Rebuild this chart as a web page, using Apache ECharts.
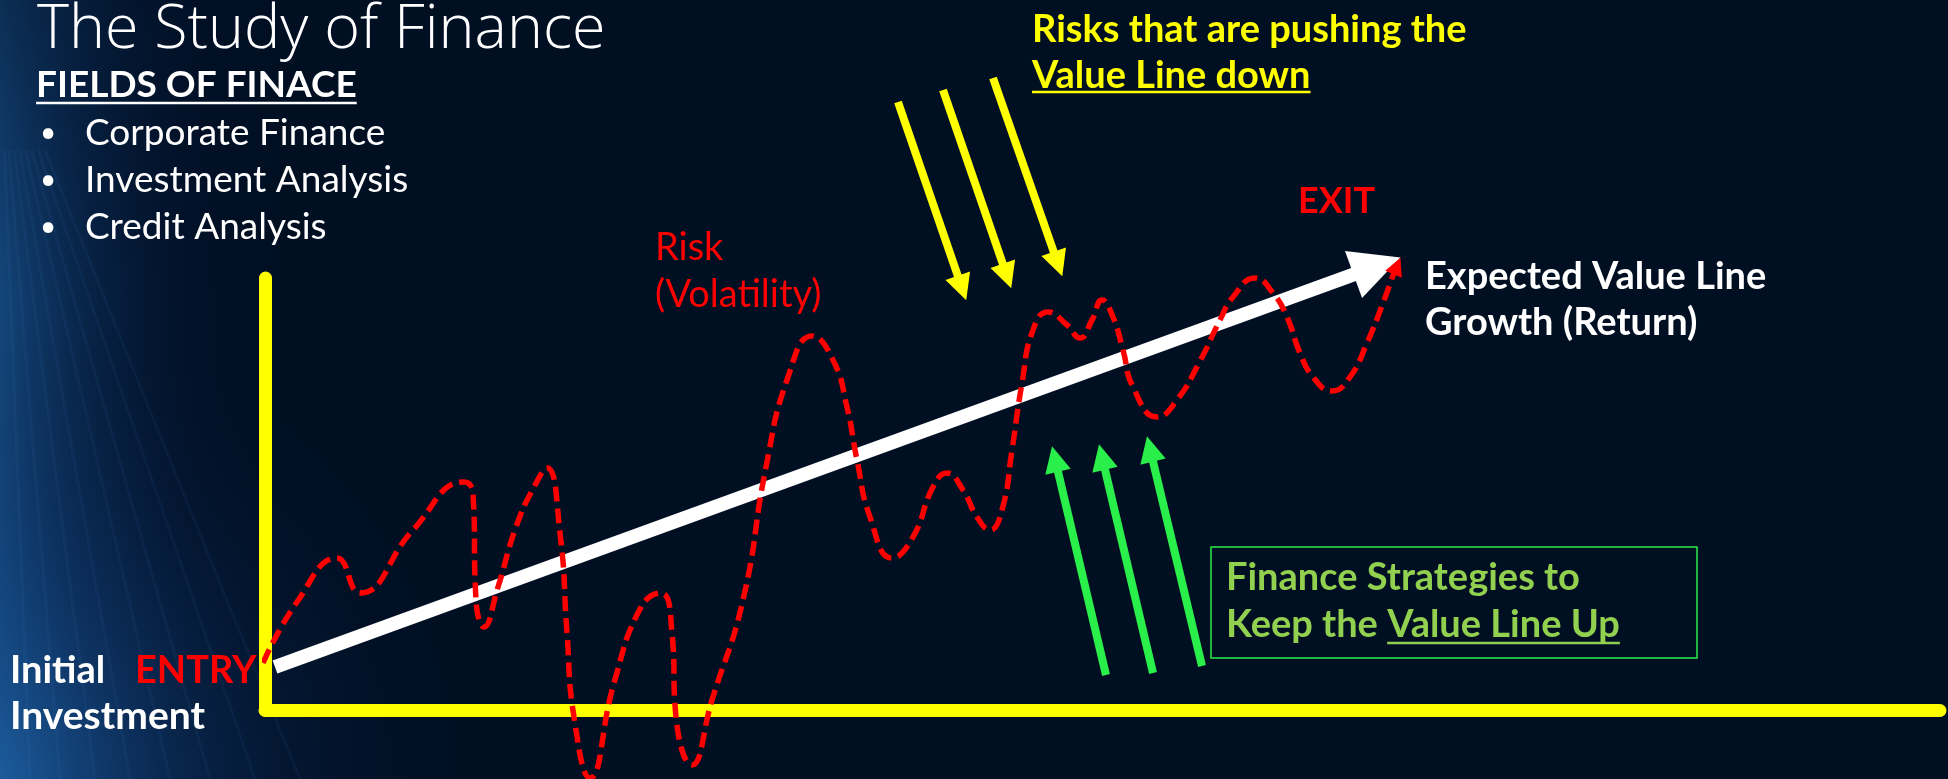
<!DOCTYPE html>
<html><head><meta charset="utf-8">
<script src="https://cdn.jsdelivr.net/npm/echarts@6/dist/echarts.min.js"></script>
<style>html,body{margin:0;padding:0;background:#010f23;overflow:hidden}#c{width:1948px;height:779px}</style>
</head><body><div id="c"></div>
<script>
// ---- data (horizontal: time units, vertical: value units) ----
const xRange = [0, 167.5];
const yRange = [0, 43.2];
const riskCurve = [[-0.2,4.7],[3.2,10.8],[7.2,15.2],[9.5,11.7],[14.8,18.0],[19.9,22.8],[20.8,21.7],[21.1,11.0],[21.9,8.3],[23.3,12.3],[25.1,18.3],[26.9,22.3],[28.2,24.2],[29.5,17.7],[30.2,7.7],[30.9,-0.7],[32.5,-6.8],[34.9,2.7],[37.6,10.3],[39.6,11.7],[40.7,7.7],[41.1,-0.7],[42.7,-5.5],[44.7,1.0],[47.8,11.0],[50.1,24.3],[52.3,33.3],[54.7,37.4],[56.8,35.0],[58.2,30.3],[59.2,25.0],[60.5,19.3],[62.7,15.2],[64.8,17.3],[66.8,22.3],[68.2,23.7],[69.8,22.0],[71.2,19.3],[72.5,18.0],[73.7,20.0],[74.7,26.0],[75.7,32.7],[76.8,38.0],[78.3,39.8],[80.2,38.5],[81.5,37.2],[82.7,39.0],[83.7,41.0],[84.8,39.3],[85.8,36.0],[86.8,32.3],[89.2,29.3],[91.2,31.0],[93.5,34.9],[95.5,39.0],[96.8,41.3],[99.0,43.2],[100.8,41.7],[102.2,39.3],[103.5,35.7],[104.8,33.3],[106.7,31.9],[108.5,33.3],[110.2,36.7],[111.8,40.7],[112.7,43.2]];
const riskArrowHead = [[112.7,43.2],[113.2,44.4]];
const valueLine = [[1.0,4.3],[111.2,44.4]];
const downArrows = [[[63.3,60.8],[69.7,42.2]],[[67.8,62.0],[74.2,43.4]],[[72.8,63.2],[79.3,44.6]]];
const upArrows = [[[84.1,3.5],[79.0,25.1]],[[88.8,3.7],[83.7,25.3]],[[93.7,4.4],[88.5,26.1]]];

// ---- texts ----
const titleText = 'The Study of Finance';
const fieldsHeading = 'FIELDS OF FINACE';
const fieldItems = ['Corporate Finance','Investment Analysis','Credit Analysis'];
const riskLabel = ['Risk','(Volatility)'];
const risksNote = ['Risks that are pushing the','Value Line down'];
const valueNote = ['Expected Value Line','Growth (Return)'];
const strategyNote = ['Finance Strategies to','Keep the ','Value Line Up'];

const chart = echarts.init(document.getElementById('c'), null, {renderer:'canvas'});
const ctx = document.createElement('canvas').getContext('2d');
function tw(t, f){ ctx.font = f; return ctx.measureText(t).width; }

const YEL = '#FFFF00', RED = '#FF0000', GRN = '#2AEE4A', LGRN = '#92D050', WHT = '#FFFFFF';
const FB = 'bold 38px Lato', FR = '37px Lato';
function txt(x, y, t, font, fill){ return {type:'text', x:x, y:y, z:50, silent:true, style:{text:t, font:font, fill:fill, textAlign:'left', verticalAlign:'middle'}}; }
function uline(x, y, w, col, lw){ return {type:'line', z:50, silent:true, shape:{x1:x,y1:y,x2:x+w,y2:y}, style:{stroke:col, lineWidth:lw}}; }

const g = [];
// background glow (decoration)
g.push({type:'rect', z:-10, silent:true, shape:{x:0,y:0,width:300,height:779}, style:{fill:new echarts.graphic.LinearGradient(0,0,1,0,[{offset:0,color:'rgba(30,100,170,0.75)'},{offset:0.3,color:'rgba(18,66,125,0.45)'},{offset:0.65,color:'rgba(6,32,72,0.16)'},{offset:1,color:'rgba(1,15,35,0)'}])}});
g.push({type:'rect', z:-10, silent:true, shape:{x:0,y:300,width:520,height:479}, style:{fill:new echarts.graphic.RadialGradient(0,1,1,[{offset:0,color:'rgba(32,100,170,0.6)'},{offset:0.5,color:'rgba(14,55,110,0.3)'},{offset:1,color:'rgba(1,15,35,0)'}])}});
g.push({type:'rect', z:-9, silent:true, shape:{x:0,y:0,width:300,height:779}, style:{fill:new echarts.graphic.LinearGradient(0,0,0,1,[{offset:0,color:'rgba(1,15,35,0.5)'},{offset:0.4,color:'rgba(1,15,35,0.12)'},{offset:1,color:'rgba(1,15,35,0)'}])}});
[30,60,95,130,170,210,255,300].forEach(function(s){
  g.push({type:'bezierCurve', z:-8, silent:true, shape:{x1:s, y1:779, cpx1:s*0.55, cpy1:450, x2:s*0.15, y2:150}, style:{stroke:'rgba(90,160,230,0.06)', lineWidth:3, fill:'none'}});
});

g.push(txt(37, 31, titleText, '300 61px "Open Sans"', WHT));
g.push(txt(36, 84.8, fieldsHeading, 'bold 37px Lato', WHT));
g.push(uline(36, 103, tw(fieldsHeading,'bold 37px Lato'), WHT, 2.5));
fieldItems.forEach(function(t,i){
  g.push(txt(40, 132.8+47*i, '\u2022', '28px Lato', WHT));
  g.push(txt(85, 132.8+47*i, t, FR, WHT));
});
g.push(txt(655, 247.5, riskLabel[0], '38px Lato', RED));
g.push(txt(655, 294.5, riskLabel[1], '38px Lato', RED));
g.push(txt(1298, 201, 'EXIT', 'bold 36px Lato', RED));
g.push(txt(1032, 29.5, risksNote[0], FB, YEL));
g.push(txt(1032, 75.5, risksNote[1], FB, YEL));
g.push(uline(1032, 92, tw(risksNote[1], FB), YEL, 2.5));
g.push(txt(1425, 276.5, valueNote[0], FB, WHT));
g.push(txt(1425, 322.5, valueNote[1], FB, WHT));
g.push(txt(10, 670.5, 'Initial', FB, WHT));
g.push(txt(135, 670.5, 'ENTRY', FB, RED));
g.push(txt(10, 716.5, 'Investment', 'bold 39px Lato', WHT));
g.push({type:'rect', z:50, silent:true, shape:{x:1211,y:547,width:486,height:111}, style:{fill:'none', stroke:GRN, lineWidth:1.5}});
g.push(txt(1226, 577.5, strategyNote[0], FB, LGRN));
g.push(txt(1226, 624.5, strategyNote[1], FB, LGRN));
const kx = 1226 + tw(strategyNote[1], FB);
g.push(txt(kx, 624.5, strategyNote[2], FB, LGRN));
g.push(uline(kx, 643, tw(strategyNote[2], FB), LGRN, 2.5));

function arrowSeries(list, color, width, head, z){
  return {type:'lines', coordinateSystem:'cartesian2d', z:z, clip:false, silent:true,
    symbol:['none','triangle'], symbolSize:head,
    lineStyle:{color:color, width:width, opacity:1, curveness:0, cap:'butt'},
    data: list.map(function(c){ return {coords:c}; })};
}

chart.setOption({
  backgroundColor:'#010f23',
  animation:false,
  grid:{left:265, right:8, top:278, bottom:69, outerBoundsMode:'none', containLabel:false},
  xAxis:{type:'value', min:xRange[0], max:xRange[1], axisLine:{show:true, onZero:false, lineStyle:{color:YEL, width:13}}, axisTick:{show:false}, axisLabel:{show:false}, splitLine:{show:false}},
  yAxis:{type:'value', min:yRange[0], max:yRange[1], axisLine:{show:true, onZero:false, lineStyle:{color:YEL, width:13}}, axisTick:{show:false}, axisLabel:{show:false}, splitLine:{show:false}},
  graphic:g,
  series:[
    arrowSeries([valueLine], WHT, 14, 50, 3),
    arrowSeries(downArrows, YEL, 8, 26, 4),
    arrowSeries(upArrows, GRN, 8, 26, 4),
    {type:'line', z:6, data:riskCurve, smooth:0.5, symbol:'none', clip:false, silent:true,
      lineStyle:{color:RED, width:5.5, type:[15,7], cap:'butt'}},
    arrowSeries([riskArrowHead], RED, 5.5, 18, 6)
  ]
});
</script></body></html>
